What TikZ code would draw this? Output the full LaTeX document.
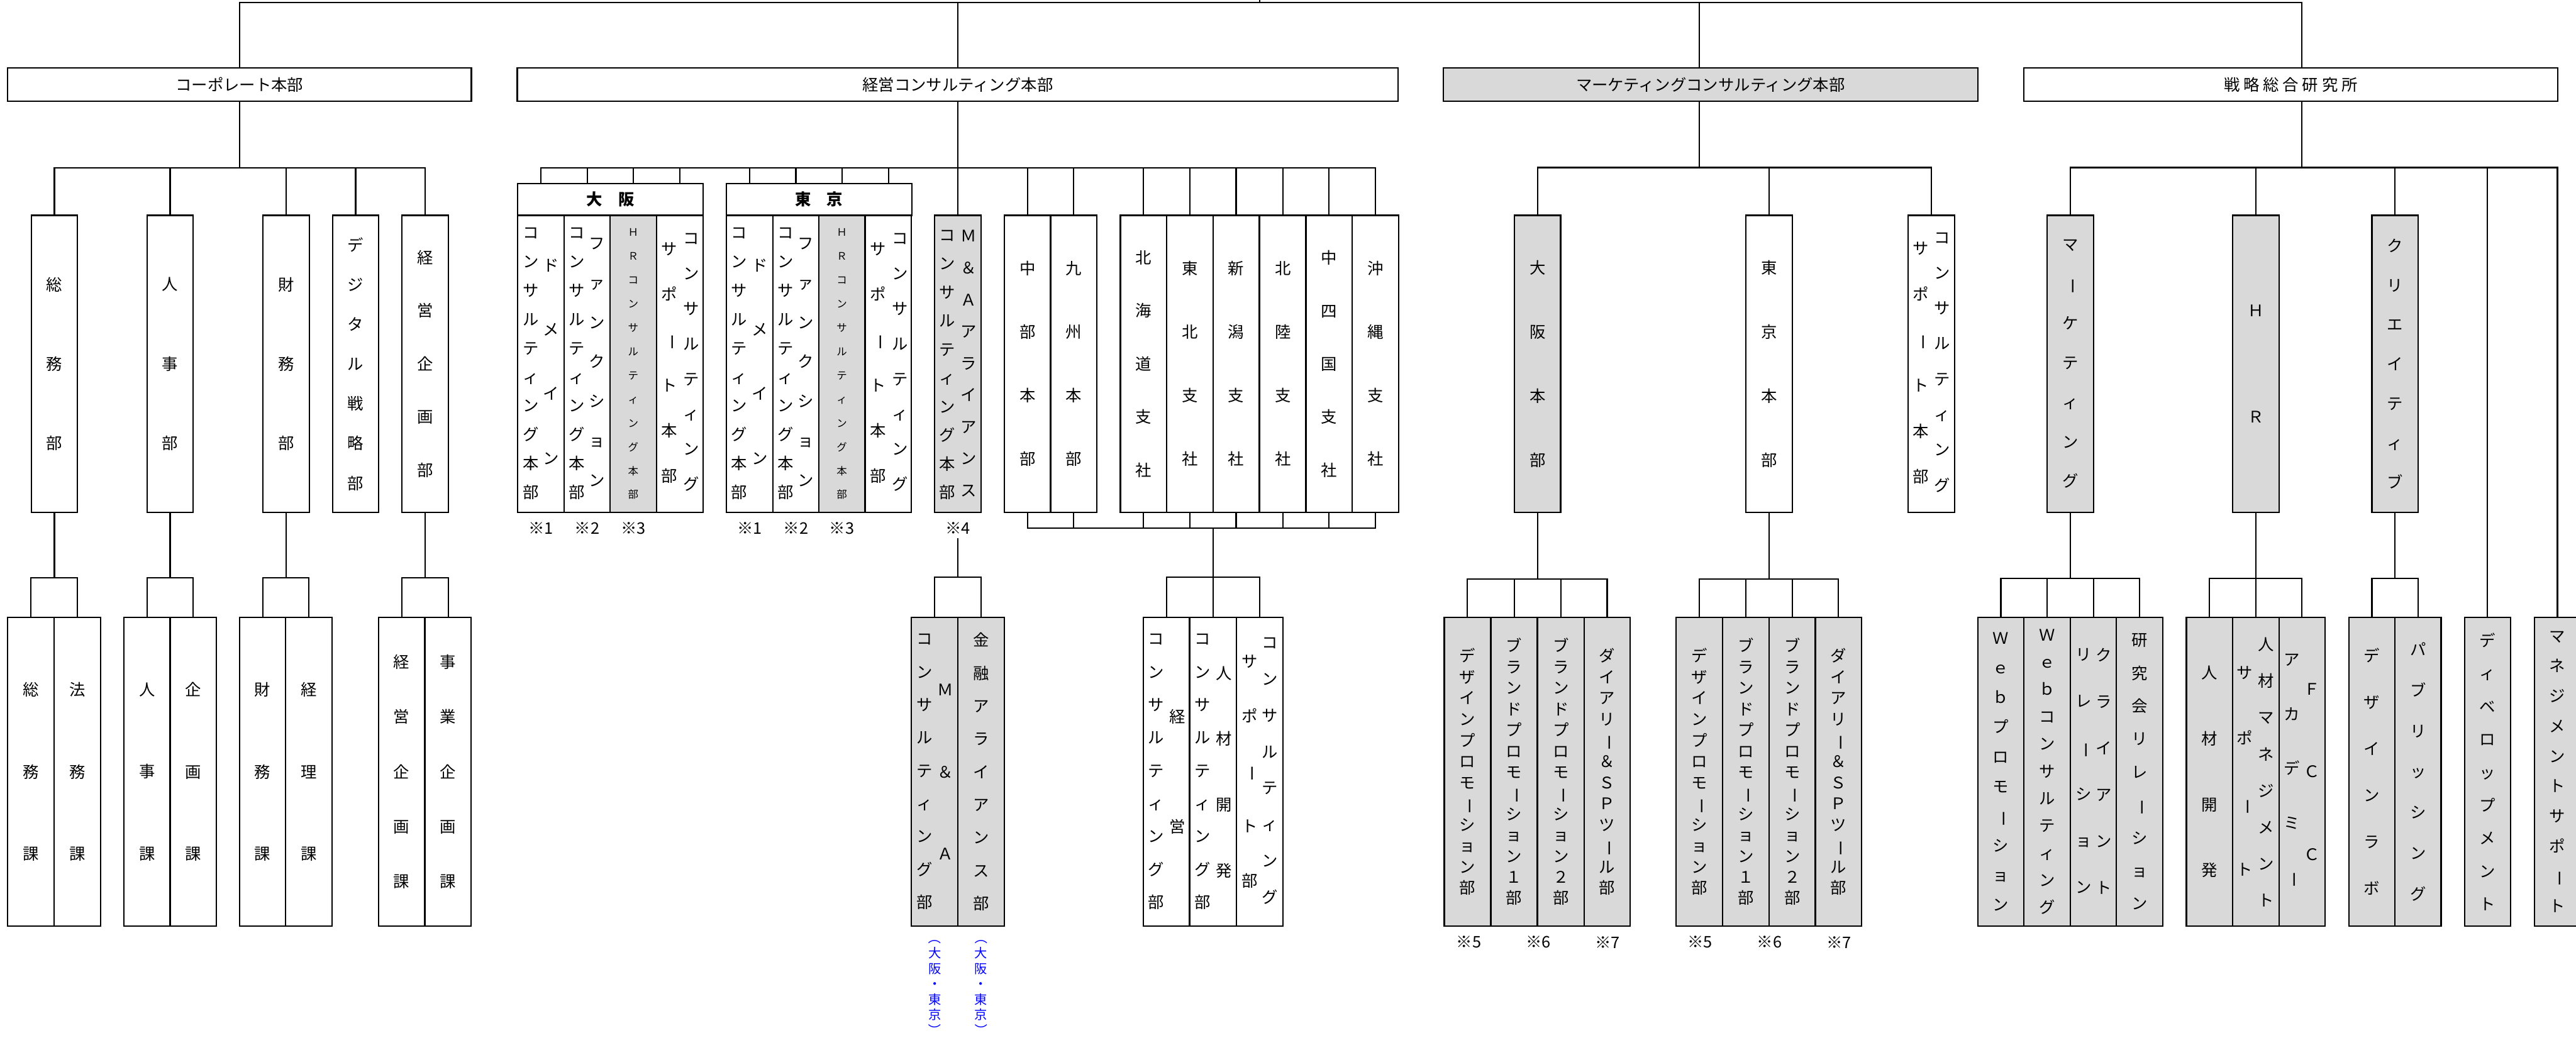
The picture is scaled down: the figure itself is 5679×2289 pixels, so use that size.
\documentclass[tikz,border=0pt]{standalone}
\usepackage{fontspec}
\setmainfont{Noto Sans CJK JP}
\newfontfamily\widejp[LetterSpace=23]{Noto Sans CJK JP}
\usepackage{graphicx}
\definecolor{boxgray}{HTML}{D9D9D9}
\definecolor{noteblue}{HTML}{0000FF}
\newcommand\chouon{\rotatebox[origin=c]{-90}{ー}}
\newcommand\kakkoL{\rotatebox[origin=c]{-90}{（}}
\newcommand\kakkoR{\rotatebox[origin=c]{-90}{）}}
\ExplSyntaxOn
\tl_new:N \l_tate_tl
\NewDocumentCommand \tate { m }
  {
    \tl_clear:N \l_tate_tl
    \tl_map_inline:nn {#1}
      {
        \tl_if_empty:NF \l_tate_tl { \tl_put_right:Nn \l_tate_tl { \\ } }
        \tl_put_right:Nn \l_tate_tl {##1}
      }
    \tl_use:N \l_tate_tl
  }
\ExplSyntaxOff

\begin{document}
\begin{tikzpicture}[x=0.01cm, y=-0.01cm, line width=0.85pt,
    font=\fontsize{10pt}{12pt}\selectfont,
    box/.style={draw, fill=white, inner sep=0pt, minimum width=1.02cm},
    topbox/.style={box, minimum height=0.73cm},
    ubox/.style={box, minimum height=6.55cm},
    lbox/.style={box, minimum height=6.8cm},
    ugbox/.style={ubox, fill=boxgray},
    lgbox/.style={lbox, fill=boxgray},
    vt/.style={align=center, inner sep=0pt, font=\fontsize{10pt}{#1}\selectfont},
    vsmall/.style={align=center, inner sep=0pt, font=\fontsize{6.5pt}{#1}\selectfont},
    vblue/.style={align=center, inner sep=0pt, text=noteblue, font=\fontsize{8pt}{#1}\selectfont},
    note/.style={inner sep=2pt}]
  \useasboundingbox (0,0) rectangle (5679,2289);
  \clip (0,0) rectangle (5679,2289);

  % top row
  \node[topbox, minimum width=10.215cm] (corp) at (528,186.5) {コーポレート本部};
  \node[topbox, minimum width=19.41cm] (keiei) at (2111.5,186.5) {経営コンサルティング本部};
  \node[topbox, fill=boxgray, minimum width=11.78cm] (mkt) at (3771,186.5) {マーケティングコンサルティング本部};
  \node[topbox, minimum width=11.76cm] (sen) at (5050,186.5) {\widejp 戦略総合研究所};
  \coordinate (root) at (2777,0);
  \foreach \n in {corp,keiei}
    \draw (root) -- ++(0,5) -| (\n.north);
  \draw (root) -- ++(0,5) -| ([xshift=-0.25cm]mkt.north);
  \draw (root) -- ++(0,5) -| ([xshift=0.24cm]sen.north);

  % corporate
  \node[ubox, vt=1.75cm] (soumu) at (120,802.5) {\tate{総務部}};
  \node[ubox, vt=1.75cm] (jinji) at (375,802.5) {\tate{人事部}};
  \node[ubox, vt=1.75cm] (zaimu) at (631,802.5) {\tate{財務部}};
  \node[ubox, vt=0.875cm] (digi) at (784,802.5) {\tate{デジタル戦略部}};
  \node[ubox, vt=1.17cm] (keikaku) at (937.5,802.5) {\tate{経営企画部}};
  \node[lbox, vt=1.81cm] (soumuka) at (68,1702) {\tate{総務課}};
  \node[lbox, vt=1.81cm] (houmuka) at (170.5,1702) {\tate{法務課}};
  \node[lbox, vt=1.81cm] (jinjika) at (324,1702) {\tate{人事課}};
  \node[lbox, vt=1.81cm] (kikakuka) at (426,1702) {\tate{企画課}};
  \node[lbox, vt=1.81cm] (zaimuka) at (579,1702) {\tate{財務課}};
  \node[lbox, vt=1.81cm] (keirika) at (681,1702) {\tate{経理課}};
  \node[lbox, vt=1.21cm] (keieika) at (885.5,1702) {\tate{経営企画課}};
  \node[lbox, vt=1.21cm] (jigyouka) at (988,1702) {\tate{事業企画課}};
  \foreach \n in {soumu,jinji,zaimu,digi,keikaku}
    \draw (corp.south) -- ++(0,146) -| (\n.north);
  \foreach \p/\a/\b in {soumu/soumuka/houmuka, jinji/jinjika/kikakuka,
                        zaimu/zaimuka/keirika, keikaku/keieika/jigyouka} {
    \draw (\p.south) -- ++(0,143) -| (\a.north);
    \draw (\p.south) -- ++(0,143) -| (\b.north);
  }

  % management consulting: osaka
  \node[box, minimum width=4.09cm, minimum height=0.705cm, font=\bfseries] (osaka) at (1345.5,440) {大　阪};
  \node[ubox] (oc1) at (1192.5,802.5) {};
  \node[vt=0.636cm] (oc1l) at (1170,802) {\tate{コンサルティング本部}};
  \node[vt=1.42cm] (oc1r) at (1215,797.5) {\tate{ドメイン}};
  \node[ubox] (oc2) at (1294.5,802.5) {};
  \node[vt=0.636cm] (oc2l) at (1271.5,802) {\tate{コンサルティング本部}};
  \node[vt=0.87cm] (oc2r) at (1316,799) {\tate{ファンクション}};
  \node[ugbox, vsmall=0.526cm] (oc3) at (1396,802.5) {\tate{ＨＲコンサルティング本部}};
  \node[ubox] (oc4) at (1498.5,802.5) {};
  \node[vt=1.0cm] (oc4l) at (1476,800.5) {\tate{サポ\chouon ト本部}};
  \node[vt=0.775cm] (oc4r) at (1524,799) {\tate{コンサルティング}};
  \node[note] (n1o) at (1192.5,1165) {※1};
  \node[note] (n2o) at (1294.5,1165) {※2};
  \node[note] (n3o) at (1396,1165) {※3};

  % management consulting: tokyo
  \node[box, minimum width=4.09cm, minimum height=0.705cm, font=\bfseries] (tokyo) at (1805.5,440) {東　京};
  \node[ubox] (tc1) at (1652.5,802.5) {};
  \node[vt=0.636cm] (tc1l) at (1630,802) {\tate{コンサルティング本部}};
  \node[vt=1.42cm] (tc1r) at (1675,797.5) {\tate{ドメイン}};
  \node[ubox] (tc2) at (1754.5,802.5) {};
  \node[vt=0.636cm] (tc2l) at (1731.5,802) {\tate{コンサルティング本部}};
  \node[vt=0.87cm] (tc2r) at (1776,799) {\tate{ファンクション}};
  \node[ugbox, vsmall=0.526cm] (tc3) at (1856,802.5) {\tate{ＨＲコンサルティング本部}};
  \node[ubox] (tc4) at (1958.5,802.5) {};
  \node[vt=1.0cm] (tc4l) at (1936,800.5) {\tate{サポ\chouon ト本部}};
  \node[vt=0.775cm] (tc4r) at (1984,799) {\tate{コンサルティング}};
  \node[note] (n1t) at (1652.5,1165) {※1};
  \node[note] (n2t) at (1754.5,1165) {※2};
  \node[note] (n3t) at (1856,1165) {※3};

  % M&A and regions
  \node[ugbox] (ma) at (2111.5,802.5) {};
  \node[vt=0.63cm] (mal) at (2088,804.5) {\tate{コンサルティング本部}};
  \node[vt=0.70cm] (mar) at (2135,801.5) {\tate{Ｍ＆Ａアライアンス}};
  \node[note] (n4) at (2111.5,1165) {※4};
  \node[ubox, vt=1.4cm] (chubu) at (2265.5,802.5) {\tate{中部本部}};
  \node[ubox, vt=1.4cm] (kyushu) at (2367,802.5) {\tate{九州本部}};
  \node[ubox, vt=1.17cm] (hokkaido) at (2521,802.5) {\tate{北海道支社}};
  \node[ubox, vt=1.4cm] (tohoku) at (2623,802.5) {\tate{東北支社}};
  \node[ubox, vt=1.4cm] (niigata) at (2725,802.5) {\tate{新潟支社}};
  \node[ubox, vt=1.4cm] (hokuriku) at (2828,802.5) {\tate{北陸支社}};
  \node[ubox, vt=1.17cm] (chushikoku) at (2930,802.5) {\tate{中四国支社}};
  \node[ubox, vt=1.4cm] (okinawa) at (3032,802.5) {\tate{沖縄支社}};

  \node[lgbox] (ma1) at (2060,1702) {};
  \node[vt=0.725cm] (ma1l) at (2038,1702) {\tate{コンサルティング部}};
  \node[vt=1.81cm] (ma1r) at (2084.5,1702.5) {\tate{Ｍ＆Ａ}};
  \node[lgbox, vt=0.725cm] (ma2) at (2163,1702) {\tate{金融アライアンス部}};
  \node[vblue=0.34cm] (ma1n) at (2061,2170) {\tate{\kakkoL 大阪・東京\kakkoR}};
  \node[vblue=0.34cm] (ma2n) at (2163,2170) {\tate{\kakkoL 大阪・東京\kakkoR}};

  \node[lbox] (kc1) at (2571.5,1702) {};
  \node[vt=0.725cm] (kc1l) at (2549,1702) {\tate{コンサルティング部}};
  \node[vt=2.43cm] (kc1r) at (2595.5,1701.5) {\tate{経営}};
  \node[lbox] (kc2) at (2674.5,1702) {};
  \node[vt=0.725cm] (kc2l) at (2651,1702) {\tate{コンサルティング部}};
  \node[vt=1.45cm] (kc2r) at (2698.5,1702.5) {\tate{人材開発}};
  \node[lbox] (kc3) at (2777,1702) {};
  \node[vt=1.21cm] (kc3l) at (2755,1701.5) {\tate{サポ\chouon ト部}};
  \node[vt=0.80cm] (kc3r) at (2800,1700) {\tate{コンサルティング}};

  \draw (keiei.south) -- (ma.north);
  \foreach \n in {oc1,oc2,oc3,oc4}
    \draw (keiei.south) -- ++(0,146) -| (\n |- osaka.north);
  \foreach \n in {tc1,tc2,tc3,tc4}
    \draw (keiei.south) -- ++(0,146) -| (\n |- tokyo.north);
  \foreach \n in {chubu,kyushu,hokkaido,tohoku,niigata,hokuriku,chushikoku,okinawa}
    \draw (keiei.south) -- ++(0,146) -| (\n.north);
  \coordinate (shibus) at (2674,1165);
  \foreach \n in {chubu,kyushu,hokkaido,tohoku,niigata,hokuriku,chushikoku,okinawa}
    \draw (\n.south) |- (shibus);
  \foreach \n in {kc1,kc2,kc3}
    \draw (shibus) -- ++(0,108) -| (\n.north);
  \coordinate (mabus) at (2111.5,1273);
  \draw (n4.south) -- (mabus) -| (ma1.north);
  \draw (mabus) -| (ma2.north);

  % marketing consulting
  \node[ugbox, vt=1.41cm] (mkosaka) at (3389.5,802.5) {\tate{大阪本部}};
  \node[ubox, vt=1.41cm] (mktokyo) at (3900,802.5) {\tate{東京本部}};
  \node[ubox] (mksup) at (4258,802.5) {};
  \node[vt=1.006cm] (mksupl) at (4234,800.5) {\tate{サポ\chouon ト本部}};
  \node[vt=0.78cm] (mksupr) at (4281,799) {\tate{コンサルティング}};
  \node[lgbox, vt=0.465cm] (mo1) at (3235,1702) {\tate{デザインプロモ\chouon ション部}};
  \node[lgbox, vt=0.463cm] (mo2) at (3338,1702) {\tate{ブランドプロモ\chouon ション１部}};
  \node[lgbox, vt=0.463cm] (mo3) at (3441,1702) {\tate{ブランドプロモ\chouon ション２部}};
  \node[lgbox, vt=0.465cm] (mo4) at (3543,1702) {\tate{ダイアリ\chouon ＆ＳＰツ\chouon ル部}};
  \node[lgbox, vt=0.465cm] (mt1) at (3746,1702) {\tate{デザインプロモ\chouon ション部}};
  \node[lgbox, vt=0.463cm] (mt2) at (3848.5,1702) {\tate{ブランドプロモ\chouon ション１部}};
  \node[lgbox, vt=0.463cm] (mt3) at (3951,1702) {\tate{ブランドプロモ\chouon ション２部}};
  \node[lgbox, vt=0.465cm] (mt4) at (4053,1702) {\tate{ダイアリ\chouon ＆ＳＰツ\chouon ル部}};
  \node[note] (n5o) at (3238,2078) {※5};
  \node[note] (n6o) at (3391,2078) {※6};
  \node[note] (n7o) at (3544,2078) {※7};
  \node[note] (n5t) at (3748,2078) {※5};
  \node[note] (n6t) at (3901,2078) {※6};
  \node[note] (n7t) at (4054,2078) {※7};
  \foreach \n in {mkosaka,mktokyo,mksup}
    \draw ([xshift=-0.25cm]mkt.south) -- ++(0,145) -| (\n.north);
  \foreach \n in {mo1,mo2,mo3,mo4}
    \draw (mkosaka.south) -- ++(0,145) -| (\n.north);
  \foreach \n in {mt1,mt2,mt3,mt4}
    \draw (mktokyo.south) -- ++(0,145) -| (\n.north);

  % strategy institute
  \node[ugbox, vt=0.87cm] (smkt) at (4564,802.5) {\tate{マ\chouon ケティング}};
  \node[ugbox, vt=2.34cm] (shr) at (4973,802.5) {\tate{ＨＲ}};
  \node[ugbox, vt=0.87cm] (scre) at (5280,802.5) {\tate{クリエイティブ}};
  \node[lgbox, vt=0.726cm] (sdev) at (5484,1702) {\tate{ディベロップメント}};
  \node[lgbox, vt=0.661cm] (smgmt) at (5638,1702) {\tate{マネジメントサポ\chouon ト}};
  \node[lgbox, vt=0.653cm] (sm1) at (4411,1702) {\tate{Ｗｅｂプロモ\chouon ション}};
  \node[lgbox, vt=0.601cm] (sm2) at (4513,1702) {\tate{Ｗｅｂコンサルティング}};
  \node[lgbox] (sm3) at (4615,1702) {};
  \node[vt=1.026cm] (sm3l) at (4593,1700.5) {\tate{リレ\chouon ション}};
  \node[vt=1.026cm] (sm3r) at (4638,1700.5) {\tate{クライアント}};
  \node[lgbox, vt=0.726cm] (sm4) at (4717,1702) {\tate{研究会リレ\chouon ション}};
  \node[lgbox, vt=1.45cm] (sh1) at (4871,1702) {\tate{人材開発}};
  \node[lgbox] (sh2) at (4973,1702) {};
  \node[vt=1.45cm] (sh2l) at (4949,1700.5) {\tate{サポ\chouon ト}};
  \node[vt=0.806cm] (sh2r) at (4996,1703) {\tate{人材マネジメント}};
  \node[lgbox] (sh3) at (5075,1702) {};
  \node[vt=1.20cm] (sh3l) at (5052,1700) {\tate{アカデミ\chouon}};
  \node[vt=1.82cm] (sh3r) at (5097,1702) {\tate{ＦＣＣ}};
  \node[lgbox, vt=1.026cm] (sc1) at (5229,1702) {\tate{デザインラボ}};
  \node[lgbox, vt=0.90cm] (sc2) at (5330.5,1702) {\tate{パブリッシング}};
  \foreach \n in {smkt,shr,scre,sdev,smgmt}
    \draw ([xshift=0.24cm]sen.south) -- ++(0,145) -| (\n.north);
  \foreach \n in {sm1,sm2,sm3,sm4}
    \draw (smkt.south) -- ++(0,144) -| (\n.north);
  \foreach \n in {sh1,sh2,sh3}
    \draw (shr.south) -- ++(0,144) -| (\n.north);
  \foreach \n in {sc1,sc2}
    \draw (scre.south) -- ++(0,144) -| (\n.north);
\end{tikzpicture}
\end{document}
